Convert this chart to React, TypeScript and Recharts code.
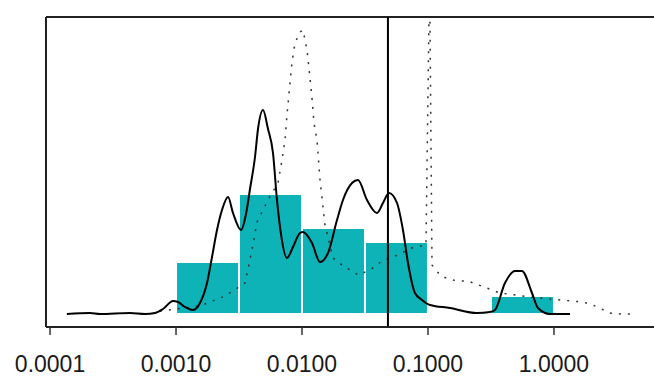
import React from "react";
import { LineChart, Line, XAxis, YAxis, ReferenceArea, ReferenceLine } from "recharts";

// Histogram bins (log-spaced, half-decade) and heights (density units)
const binStarts = [0.001, 0.003162, 0.01, 0.03162, 0.3162];
const binEnds = [0.003162, 0.01, 0.03162, 0.1, 1.0];
const binHeights = [0.52, 1.2, 0.86, 0.72, 0.18];

// Solid kernel density curve
const densX = [
  0.000136, 0.000208, 0.000249, 0.000431, 0.000568, 0.000681, 0.000788, 0.000947, 0.001037,
  0.001179, 0.001365, 0.00155, 0.001762, 0.001931, 0.002115, 0.002317, 0.002587, 0.002834,
  0.00328, 0.003594, 0.003866, 0.004236, 0.004475, 0.004904, 0.005373, 0.005885, 0.00633,
  0.00669, 0.0076, 0.00848, 0.00964, 0.01018, 0.012, 0.0139, 0.01608, 0.01896, 0.02115,
  0.02493, 0.02782, 0.0328, 0.03937, 0.04394, 0.04904, 0.05675, 0.0633, 0.0694, 0.0788,
  0.0896, 0.1037, 0.1495, 0.2448, 0.3105, 0.3401, 0.4084, 0.4904, 0.557, 0.669, 0.7464,
  0.9296, 1.34,
];
const densY = [
  0, 0.01, 0, 0.01, 0, 0.01, 0.05, 0.13, 0.12,
  0.07, 0.04, 0.11, 0.31, 0.57, 0.84, 1.04, 1.17, 1.01,
  0.84, 1.0, 1.25, 1.57, 1.85, 2.04, 1.85, 1.61, 1.14,
  0.87, 0.56, 0.67, 0.81, 0.82, 0.71, 0.52, 0.61, 0.94, 1.14,
  1.31, 1.34, 1.14, 1.01, 1.11, 1.21, 1.11, 0.84, 0.51, 0.21,
  0.14, 0.09, 0.06, 0.01, 0.02, 0.04, 0.31, 0.43, 0.43, 0.21, 0.06,
  0, 0,
];

// Dotted comparison curve
const dotX = [
  0.000746, 0.00155, 0.002448, 0.003528, 0.00401, 0.004394, 0.005373, 0.00645, 0.00694,
  0.00733, 0.0076, 0.00833, 0.0088, 0.00964, 0.01018, 0.01096, 0.01157, 0.012, 0.01245,
  0.01315, 0.0139, 0.01522, 0.01762, 0.02077, 0.02404, 0.02782, 0.03465, 0.03937, 0.04394,
  0.05276, 0.0746, 0.0964, 0.1018, 0.1037, 0.1076, 0.1245, 0.1441, 0.173, 0.2077, 0.3727,
  0.645, 1.116, 1.699, 2.039, 2.783, 3.465, 4.159,
];
const dotY = [
  0.03, 0.08, 0.18, 0.31, 0.64, 0.92, 1.14, 1.31, 1.54,
  1.74, 1.99, 2.52, 2.71, 2.82, 2.84, 2.64, 2.36, 2.16, 1.91,
  1.74, 1.34, 0.89, 0.56, 0.49, 0.44, 0.39, 0.44, 0.49, 0.54,
  0.57, 0.66, 0.69, 2.94, 2.94, 0.49, 0.39, 0.35, 0.33, 0.33, 0.21,
  0.17, 0.14, 0.12, 0.09, 0.01, 0, 0,
];

const xTicks = [0.0001, 0.001, 0.01, 0.1, 1];
const cutoff = 0.0481;

const densData = densX.map((x, i) => ({ x, y: densY[i] }));
const dotData = dotX.map((x, i) => ({ x, y: dotY[i] }));

const X_MIN = Math.pow(10, -4.032);
const X_MAX = Math.pow(10, 0.794);
const Y_MIN = -0.13;
const Y_MAX = 2.97;

function Tick(props: any) {
  const { x, y, payload } = props;
  return (
    <text
      x={x}
      y={y}
      dy={37}
      textAnchor="middle"
      fill="#1a1a1a"
      fontSize={23}
      fontFamily="Liberation Sans, Arial, sans-serif"
    >
      {Number(payload.value).toFixed(4)}
    </text>
  );
}

export default function App() {
  return (
    <div style={{ position: "absolute", left: 0, top: 0, background: "#fff" }}>
      <LineChart
        width={654}
        height={378}
        margin={{ top: 17, right: 0, bottom: 0, left: 0 }}
      >
        <XAxis
          dataKey="x"
          type="number"
          scale="log"
          domain={[X_MIN, X_MAX]}
          allowDataOverflow
          ticks={xTicks}
          height={51}
          tickSize={8}
          tickMargin={0}
          axisLine={{ stroke: "#222", strokeWidth: 2 }}
          tickLine={{ stroke: "#333", strokeWidth: 1.5 }}
          tick={<Tick />}
          interval={0}
        />
        <YAxis
          type="number"
          domain={[Y_MIN, Y_MAX]}
          allowDataOverflow
          tick={false}
          tickLine={false}
          width={46}
          axisLine={{ stroke: "#222", strokeWidth: 2 }}
        />
        {binStarts.map((s, i) => (
          <ReferenceArea
            key={i}
            x1={s}
            x2={binEnds[i]}
            y1={0}
            y2={binHeights[i]}
            fill="#0DB3B7"
            fillOpacity={1}
            stroke="#ffffff"
            strokeWidth={2}
            ifOverflow="visible"
          />
        ))}
        <ReferenceLine y={Y_MAX} stroke="#222" strokeWidth={2} ifOverflow="visible" />
        <Line
          data={dotData}
          dataKey="y"
          type="linear"
          stroke="#333"
          strokeWidth={1.5}
          strokeDasharray="2 7"
          dot={false}
          isAnimationActive={false}
        />
        <Line
          data={densData}
          dataKey="y"
          type="monotone"
          stroke="#000"
          strokeWidth={2}
          dot={false}
          isAnimationActive={false}
        />
        <ReferenceLine x={cutoff} stroke="#000" strokeWidth={2} ifOverflow="visible" />
      </LineChart>
    </div>
  );
}
